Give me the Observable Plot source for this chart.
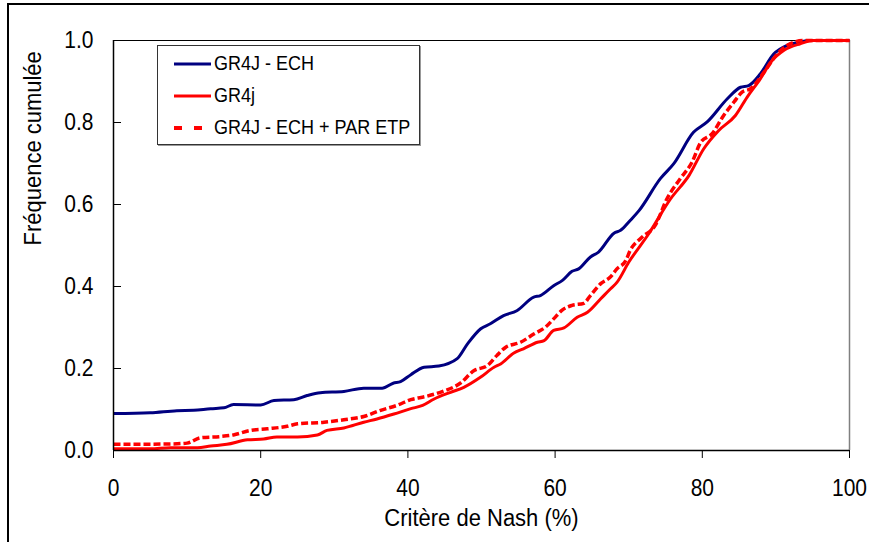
<!DOCTYPE html>
<html>
<head>
<meta charset="utf-8">
<script src="https://cdn.jsdelivr.net/npm/d3@7"></script>
<script src="https://cdn.jsdelivr.net/npm/@observablehq/plot@0.6"></script>
<style>
  html, body { margin: 0; padding: 0; background: #fff; }
  #wrap { position: relative; width: 869px; height: 542px; overflow: hidden; font-family: "Liberation Sans", Arial, sans-serif; }
  #outer { position: absolute; left: 7px; top: 3px; width: 900px; height: 600px; border-top: 2px solid #000; border-left: 2px solid #000; }
  #legend { position: absolute; left: 157px; top: 45px; width: 261px; height: 98px; border: 1px solid #333; background: #fff; box-shadow: 1px 1px 0 #999; }
  .row { position: absolute; left: 16px; height: 24px; display: flex; align-items: center; font-size: 18px; color: #000; white-space: nowrap; }
  .row svg { margin-right: 3px; }
  .row span { display: inline-block; transform: scaleY(1.12); transform-origin: 0 60%; }
</style>
</head>
<body>
<div id="wrap">
  <div id="outer"></div>
  <div id="chart"></div>
  <div id="legend"></div>
</div>
<script>
// ---- data ----
const seriesNames = ["GR4J - ECH", "GR4j", "GR4J - ECH + PAR ETP"];
const seriesColors = ["#000080", "#FF0000", "#FF0000"];
const xTicks = [0, 20, 40, 60, 80, 100];
const yTicks = [0, 0.2, 0.4, 0.6, 0.8, 1.0];
const xDomain = [0, 100];
const yDomain = [0, 1];
const xLabel = "Critère de Nash (%)";
const yLabel = "Fréquence cumulée";

const ech = [[0,0.09],[5,0.092],[8.6,0.097],[10.9,0.098],[13.2,0.102],[15,0.104],[16.3,0.112],[20,0.111],[21.8,0.122],[24.5,0.124],[26.3,0.134],[28.1,0.141],[31.3,0.144],[34,0.152],[36.5,0.152],[38,0.164],[39,0.168],[40.4,0.185],[42.2,0.203],[44.2,0.206],[46.7,0.224],[48.1,0.26],[49.9,0.297],[51.2,0.309],[53,0.329],[54.8,0.341],[57.1,0.374],[58,0.378],[59.8,0.402],[61,0.415],[62.3,0.437],[63.2,0.443],[64.8,0.472],[65.9,0.484],[68,0.53],[68.9,0.537],[70.2,0.561],[71.4,0.585],[74.3,0.663],[76.1,0.699],[78.8,0.776],[80.7,0.802],[83.4,0.858],[85.2,0.886],[86.3,0.89],[87.9,0.919],[89.7,0.967],[91.5,0.988],[93.3,0.996],[94.5,1],[100,1]];

const gr4j = [[0,0.004],[5,0.004],[7.7,0.007],[11.4,0.007],[13.2,0.011],[15.4,0.015],[18.2,0.026],[20.4,0.028],[22.2,0.033],[25,0.033],[27.7,0.038],[29,0.049],[31.3,0.055],[34,0.069],[35.8,0.077],[38.1,0.089],[40.4,0.102],[42,0.11],[43.5,0.125],[45.8,0.142],[47.6,0.154],[49.9,0.179],[51.7,0.203],[52.6,0.211],[54.4,0.238],[55.7,0.248],[57.6,0.264],[58.5,0.268],[59.8,0.293],[61.2,0.299],[63,0.325],[64.4,0.337],[66.2,0.37],[67.5,0.394],[68.4,0.41],[70,0.459],[72.7,0.528],[75.7,0.614],[78.2,0.671],[80.2,0.736],[82.2,0.78],[84.5,0.817],[86.1,0.862],[87.9,0.907],[89.3,0.947],[91.1,0.976],[93.3,0.992],[95.1,1],[100,1]];

const echEtp = [[0,0.015],[7.7,0.016],[10,0.018],[11.8,0.031],[14.5,0.034],[16.3,0.038],[18.6,0.049],[20.9,0.053],[23.6,0.059],[25,0.065],[28.6,0.069],[31.3,0.075],[34,0.083],[36.3,0.098],[38.5,0.11],[40.4,0.124],[42.5,0.132],[44.4,0.142],[47.1,0.164],[49,0.195],[50.8,0.207],[52.1,0.232],[53.3,0.252],[55.3,0.264],[57.1,0.284],[58.7,0.301],[59.8,0.321],[61,0.343],[62.3,0.354],[63.9,0.359],[64.8,0.378],[66.2,0.407],[67.5,0.423],[68.4,0.443],[69.6,0.463],[70.2,0.488],[71.8,0.52],[73.6,0.549],[75.2,0.614],[77,0.663],[78.6,0.703],[79.8,0.752],[81.3,0.772],[82.9,0.817],[84.3,0.85],[85.4,0.874],[86.5,0.882],[88.4,0.923],[90,0.963],[91.5,0.988],[93.8,1],[100,1]];

const dashes = [null, null, "7,3"];
const legendDashes = [null, null, "8,12"];

// ---- chart ----
const fontFamily = '"Liberation Sans", Arial, sans-serif';
const lineOpts = (i) => ({
  x: d => d[0], y: d => d[1],
  stroke: seriesColors[i], strokeWidth: i === 2 ? 3.5 : 3,
  strokeDasharray: dashes[i] || undefined,
  strokeLinecap: "butt",
  curve: "monotone-x", strokeLinejoin: "round"
});

const chart = Plot.plot({
  width: 869,
  height: 542,
  marginLeft: 113,
  marginRight: 20,
  marginTop: 40,
  marginBottom: 92,
  style: { fontFamily, background: "transparent", color: "#000" },
  x: { domain: xDomain },
  y: { domain: yDomain },
  marks: [
    Plot.ruleX([xDomain[1]], { stroke: "#808080", strokeWidth: 1.5 }),
    Plot.ruleY([yDomain[1]], { stroke: "#000", strokeWidth: 1.2 }),
    Plot.line(ech, lineOpts(0)),
    Plot.line(gr4j, lineOpts(1)),
    Plot.line(echEtp, lineOpts(2)),
    Plot.ruleX([xDomain[0]], { stroke: "#000", strokeWidth: 1.5 }),
    Plot.ruleY([yDomain[0]], { stroke: "#000", strokeWidth: 1.5 }),
    Plot.axisY({ ticks: yTicks, tickSize: -8, tickPadding: 28, tickFormat: d3.format(".1f"), fontSize: 21, label: null, stroke: "#000" }),
    Plot.axisX({ ticks: xTicks, tickSize: 8, tickPadding: 21, tickFormat: d3.format("d"), fontSize: 21, label: null, stroke: "#000" }),
    Plot.text([xLabel], { text: d => d, frameAnchor: "bottom", dy: 75, lineAnchor: "bottom", fontSize: 22 }),
    Plot.text([yLabel], { text: d => d, frameAnchor: "left", dx: -80, rotate: -90, lineAnchor: "middle", fontSize: 22 })
  ]
});
document.getElementById("chart").appendChild(chart);

// stretch glyphs vertically a little, as in the reference
const stretch = 1.12;
chart.querySelectorAll("text").forEach(t => {
  const tr = t.getAttribute("transform");
  if (tr) {
    t.setAttribute("transform", tr + ` scale(1, ${stretch})`);
  } else {
    const xa = t.getAttribute("x"), ya = t.getAttribute("y");
    const xn = xa !== null && !isNaN(+xa), yn = ya !== null && !isNaN(+ya);
    const x = xn ? +xa : 0, y = yn ? +ya : 0;
    if (xn) t.removeAttribute("x");
    if (yn) t.removeAttribute("y");
    t.setAttribute("transform", `translate(${x},${y}) scale(1, ${stretch})`);
  }
});

// ---- legend ----
const legend = document.getElementById("legend");
const rowTops = [6, 38, 70];
seriesNames.forEach((name, i) => {
  const row = document.createElement("div");
  row.className = "row";
  row.style.top = rowTops[i] + "px";
  const ns = "http://www.w3.org/2000/svg";
  const svg = document.createElementNS(ns, "svg");
  svg.setAttribute("width", 37); svg.setAttribute("height", 10);
  const ln = document.createElementNS(ns, "line");
  ln.setAttribute("x1", 0); ln.setAttribute("x2", 37);
  ln.setAttribute("y1", 5); ln.setAttribute("y2", 5);
  ln.setAttribute("stroke", seriesColors[i]);
  ln.setAttribute("stroke-width", i === 2 ? 4 : 3);
  if (legendDashes[i]) ln.setAttribute("stroke-dasharray", legendDashes[i]);
  svg.appendChild(ln);
  row.appendChild(svg);
  const t = document.createElement("span");
  t.textContent = name;
  row.appendChild(t);
  legend.appendChild(row);
});
</script>
</body>
</html>
